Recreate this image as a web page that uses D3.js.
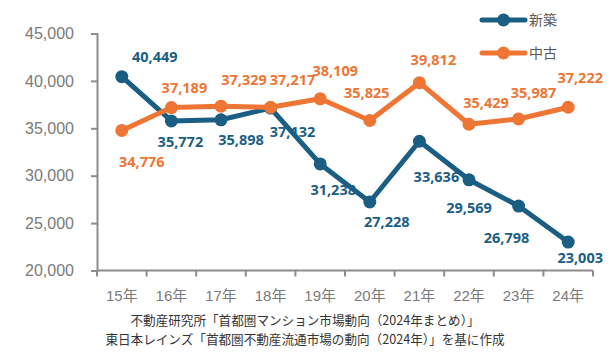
<!DOCTYPE html>
<html>
<head>
<meta charset="utf-8">
<script src="https://cdn.jsdelivr.net/npm/d3@7"></script>
<style>
  html, body { margin: 0; padding: 0; background: #ffffff; }
  svg { display: block; }
</style>
</head>
<body>
<svg id="chart" width="612" height="356"></svg>
<script>
// ---- data ----
const categories = ["15年", "16年", "17年", "18年", "19年", "20年", "21年", "22年", "23年", "24年"];
const shinchiku = [40449, 35772, 35898, 37132, 31238, 27228, 33636, 29569, 26798, 23003];
const chuko = [34776, 37189, 37329, 37217, 38109, 35825, 39812, 35429, 35987, 37222];
const seriesNames = ["新築", "中古"];
const yTicks = [20000, 25000, 30000, 35000, 40000, 45000];
const sourceLines = [
  "不動産研究所「首都圏マンション市場動向（2024年まとめ）」",
  "東日本レインズ「首都圏不動産流通市場の動向（2024年）」を基に作成"
];

// ---- label placement (styling: offsets from point, px) ----
const shinLabelDx = [33, 9, 20, 22, 13, 17, 17, 0, -12, 12];
const shinLabelDy = [-15, 26, 25, 29, 31, 25, 41, 33, 37, 21];
const chukoLabelDx = [20, 13, 23, 22, 15, -3, 14, 17, 15, 12];
const chukoLabelDy = [37, -15, -21, -22, -23, -22, -18, -16, -21, -24];

const blue = "#1b5e83";
const orange = "#ee7534";
const axisGray = "#8c8c8c";
const textGray = "#7a7a7a";

const svg = d3.select("#chart");

const x = d3.scaleBand().domain(categories).range([97, 593]).padding(0);
const y = d3.scaleLinear().domain([20000, 45000]).range([270.5, 33.5]);
const fmt = d3.format(",");

// y axis
const yAxis = svg.append("g")
  .attr("transform", "translate(97,0)")
  .call(d3.axisLeft(y).tickValues(yTicks).tickFormat(fmt).tickSize(6).tickPadding(17));
yAxis.select(".domain").attr("stroke", axisGray).attr("stroke-width", 2);
yAxis.selectAll(".tick line").attr("stroke", axisGray).attr("stroke-width", 2);
yAxis.selectAll(".tick text")
  .attr("fill", textGray)
  .style("font-family", "'Liberation Sans', Arial, sans-serif")
  .style("font-size", "16px");

// x axis (ticks at band boundaries)
const xg = svg.append("g");
xg.append("line")
  .attr("x1", x.range()[0]).attr("x2", x.range()[1])
  .attr("y1", y(20000)).attr("y2", y(20000))
  .attr("stroke", axisGray).attr("stroke-width", 2);
const bounds = categories.map(c => x(c)).concat([x(categories[categories.length - 1]) + x.bandwidth()]);
xg.selectAll("line.tk").data(bounds).join("line")
  .attr("class", "tk")
  .attr("x1", d => d).attr("x2", d => d)
  .attr("y1", y(20000)).attr("y2", y(20000) + 6)
  .attr("stroke", axisGray).attr("stroke-width", 2);
xg.selectAll("text").data(categories).join("text")
  .attr("x", d => x(d) + x.bandwidth() / 2)
  .attr("y", 301)
  .attr("text-anchor", "middle")
  .attr("fill", textGray)
  .style("font-family", "'Liberation Sans', 'Noto Sans CJK JP', sans-serif")
  .style("font-size", "15px")
  .text(d => d);

const cx = c => x(c) + x.bandwidth() / 2;

// data labels (drawn beneath the lines)
function drawLabels(values, dx, dy, color) {
  svg.append("g").selectAll("text").data(values).join("text")
    .attr("x", (d, i) => cx(categories[i]) + dx[i])
    .attr("y", (d, i) => y(d) + dy[i])
    .attr("text-anchor", "middle")
    .attr("fill", color)
    .style("font-family", "'Noto Sans', 'Liberation Sans', sans-serif")
    .style("font-weight", "bold")
    .style("font-size", "14.5px")
    .text(d => fmt(d));
}
drawLabels(shinchiku, shinLabelDx, shinLabelDy, blue);
drawLabels(chuko, chukoLabelDx, chukoLabelDy, orange);

// lines
const line = d3.line().x((d, i) => cx(categories[i])).y(d => y(d));
function drawSeries(values, color) {
  const g = svg.append("g");
  g.append("path").datum(values)
    .attr("d", line)
    .attr("fill", "none")
    .attr("stroke", color)
    .attr("stroke-width", 5)
    .attr("stroke-linejoin", "round");
  g.selectAll("circle").data(values).join("circle")
    .attr("cx", (d, i) => cx(categories[i]))
    .attr("cy", d => y(d))
    .attr("r", 6.5)
    .attr("fill", color);
}
drawSeries(shinchiku, blue);
drawSeries(chuko, orange);

// legend
const legendY = [20, 53];
const legendColors = [blue, orange];
const lg = svg.append("g");
seriesNames.forEach((name, i) => {
  lg.append("line")
    .attr("x1", 482).attr("x2", 525)
    .attr("y1", legendY[i]).attr("y2", legendY[i])
    .attr("stroke", legendColors[i]).attr("stroke-width", 5)
    .attr("stroke-linecap", "round");
  lg.append("circle")
    .attr("cx", 503.5).attr("cy", legendY[i]).attr("r", 6.5)
    .attr("fill", legendColors[i]);
  lg.append("text")
    .attr("x", 529).attr("y", legendY[i] + 5)
    .attr("fill", "#595959")
    .style("font-family", "'Noto Sans CJK JP', sans-serif")
    .style("font-size", "14px")
    .text(name);
});

// source
svg.append("g").selectAll("text").data(sourceLines).join("text")
  .attr("x", 305)
  .attr("y", (d, i) => 325 + i * 19)
  .attr("text-anchor", "middle")
  .attr("fill", "#333333")
  .style("font-family", "'Noto Sans CJK JP', sans-serif")
  .style("font-size", "12.6px")
  .text(d => d);
</script>
</body>
</html>
